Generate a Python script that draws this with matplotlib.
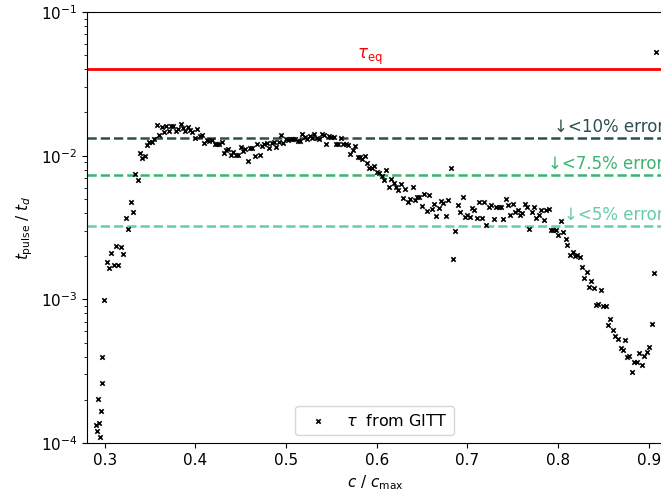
import numpy as np
import matplotlib
matplotlib.use("Agg")
import matplotlib.pyplot as plt

# c / c_max values
c_vals = [
    0.2901, 0.2912, 0.2926, 0.2940, 0.2945, 0.2956, 0.2967, 0.2974, 0.2996, 0.3022,
    0.3047, 0.3073, 0.3099, 0.3128, 0.3150, 0.3180, 0.3205, 0.3235, 0.3257, 0.3287,
    0.3309, 0.3337, 0.3364, 0.3389, 0.3415, 0.3444, 0.3467, 0.3492, 0.3518, 0.3547,
    0.3574, 0.3602, 0.3629, 0.3654, 0.3679, 0.3706, 0.3731, 0.3757, 0.3786, 0.3812,
    0.3838, 0.3864, 0.3889, 0.3915, 0.3941, 0.3966, 0.3993, 0.4021, 0.4048, 0.4073,
    0.4099, 0.4125, 0.4150, 0.4180, 0.4213, 0.4242, 0.4264, 0.4297, 0.4316, 0.4338,
    0.4363, 0.4390, 0.4418, 0.4448, 0.4473, 0.4500, 0.4522, 0.4547, 0.4577, 0.4603,
    0.4628, 0.4658, 0.4683, 0.4710, 0.4732, 0.4760, 0.4787, 0.4812, 0.4842, 0.4867,
    0.4893, 0.4919, 0.4944, 0.4970, 0.4996, 0.5025, 0.5051, 0.5077, 0.5102, 0.5129,
    0.5154, 0.5179, 0.5206, 0.5234, 0.5261, 0.5286, 0.5312, 0.5338, 0.5364, 0.5393,
    0.5419, 0.5444, 0.5471, 0.5499, 0.5526, 0.5551, 0.5576, 0.5603, 0.5632, 0.5658,
    0.5683, 0.5709, 0.5735, 0.5761, 0.5788, 0.5812, 0.5838, 0.5868, 0.5893, 0.5918,
    0.5948, 0.5973, 0.6000, 0.6029, 0.6055, 0.6080, 0.6102, 0.6132, 0.6158, 0.6187,
    0.6213, 0.6238, 0.6265, 0.6290, 0.6315, 0.6342, 0.6367, 0.6397, 0.6419, 0.6448,
    0.6470, 0.6500, 0.6525, 0.6551, 0.6580, 0.6607, 0.6632, 0.6657, 0.6684, 0.6712,
    0.6734, 0.6761, 0.6790, 0.6816, 0.6838, 0.6864, 0.6893, 0.6921, 0.6948, 0.6974,
    0.6998, 0.7026, 0.7051, 0.7075, 0.7103, 0.7131, 0.7158, 0.7183, 0.7209, 0.7238,
    0.7264, 0.7290, 0.7316, 0.7345, 0.7367, 0.7393, 0.7423, 0.7448, 0.7473, 0.7500,
    0.7525, 0.7555, 0.7580, 0.7606, 0.7632, 0.7658, 0.7683, 0.7709, 0.7738, 0.7760,
    0.7787, 0.7815, 0.7842, 0.7867, 0.7897, 0.7922, 0.7948, 0.7977, 0.8002, 0.8029,
    0.8055, 0.8082, 0.8102, 0.8134, 0.8159, 0.8185, 0.8211, 0.8237, 0.8264, 0.8290,
    0.8316, 0.8341, 0.8367, 0.8397, 0.8422, 0.8444, 0.8474, 0.8499, 0.8526, 0.8551,
    0.8576, 0.8606, 0.8631, 0.8658, 0.8687, 0.8713, 0.8735, 0.8760, 0.8786, 0.8816,
    0.8841, 0.8867, 0.8896, 0.8923, 0.8948, 0.8978, 0.9003, 0.9029, 0.9055, 0.9080,
]

# log10(t_pulse / t_d) values
log_tau = [
    -3.874, -3.914, -3.691, -3.862, -3.958, -3.779, -3.580, -3.401, -3.002, -2.738,
    -2.784, -2.675, -2.761, -2.628, -2.761, -2.637, -2.684, -2.434, -2.510, -2.320,
    -2.392, -2.129, -2.169, -1.979, -2.014, -2.002, -1.923, -1.907, -1.903, -1.882,
    -1.784, -1.858, -1.800, -1.837, -1.791, -1.830, -1.795, -1.795, -1.826, -1.816,
    -1.781, -1.809, -1.826, -1.798, -1.821, -1.835, -1.879, -1.812, -1.865, -1.858,
    -1.910, -1.891, -1.898, -1.894, -1.917, -1.917, -1.917, -1.907, -1.983, -1.962,
    -1.951, -1.995, -1.976, -1.993, -1.993, -1.937, -1.965, -1.955, -2.035, -1.949,
    -1.949, -2.002, -1.917, -1.995, -1.930, -1.921, -1.914, -1.949, -1.910, -1.907,
    -1.937, -1.907, -1.858, -1.912, -1.886, -1.891, -1.884, -1.884, -1.886, -1.898,
    -1.901, -1.851, -1.868, -1.885, -1.866, -1.879, -1.849, -1.877, -1.887, -1.851,
    -1.855, -1.921, -1.863, -1.873, -1.868, -1.919, -1.922, -1.875, -1.917, -1.917,
    -1.926, -1.985, -1.964, -1.932, -2.008, -2.011, -2.021, -2.000, -2.053, -2.088,
    -2.088, -2.070, -2.116, -2.120, -2.139, -2.169, -2.102, -2.218, -2.160, -2.190,
    -2.220, -2.241, -2.195, -2.292, -2.232, -2.322, -2.301, -2.220, -2.308, -2.290,
    -2.287, -2.348, -2.264, -2.385, -2.276, -2.373, -2.338, -2.418, -2.364, -2.315,
    -2.326, -2.420, -2.306, -2.086, -2.719, -2.524, -2.341, -2.390, -2.287, -2.424,
    -2.411, -2.424, -2.367, -2.376, -2.431, -2.324, -2.431, -2.322, -2.480, -2.357,
    -2.345, -2.438, -2.359, -2.355, -2.359, -2.438, -2.299, -2.345, -2.413, -2.338,
    -2.392, -2.376, -2.413, -2.401, -2.338, -2.355, -2.507, -2.394, -2.359, -2.431,
    -2.411, -2.378, -2.450, -2.378, -2.371, -2.514, -2.514, -2.514, -2.550, -2.453,
    -2.532, -2.582, -2.620, -2.692, -2.672, -2.695, -2.690, -2.707, -2.775, -2.851,
    -2.809, -2.914, -2.874, -2.919, -3.041, -3.030, -2.935, -3.046, -3.046, -3.178,
    -3.136, -3.213, -3.253, -3.276, -3.338, -3.352, -3.280, -3.401, -3.392, -3.505,
    -3.434, -3.438, -3.375, -3.457, -3.394, -3.364, -3.329, -3.173, -2.816, -1.280,
]

tau_eq = 0.040
err_levels = [0.01324, 0.00731, 0.00323]
err_labels = ["↓<10% error", "↓<7.5% error", "↓<5% error"]
err_colors = ["#2f4f4f", "#3cb371", "#66cdaa"]

tau = 10.0 ** np.array(log_tau)

fig = plt.figure(figsize=(6.61, 4.96), dpi=100)
ax = fig.add_axes([87 / 661, 1 - 443 / 496, 575.5 / 661, 431 / 496])

ax.scatter(c_vals, tau, marker="x", s=10, linewidths=1.2, color="black",
           label=r"$\tau$  from GITT", zorder=3)

xmin, xmax = 0.2805, 0.915
ax.axhline(tau_eq, color="red", lw=2, zorder=2)
ax.text(0.5926, tau_eq * 1.04, r"$\tau_\mathrm{eq}$", color="red",
        ha="center", va="bottom", fontsize=12)

for lvl, lab, col in zip(err_levels, err_labels, err_colors):
    ax.axhline(lvl, color=col, lw=1.8, ls="--", zorder=2)
    ax.text(0.9165, lvl * 1.04, lab, color=col, ha="right", va="bottom", fontsize=12)

ax.set_yscale("log")
ax.set_ylim(1e-4, 1e-1)
ax.set_xlim(xmin, xmax)
ax.set_xticks([0.3, 0.4, 0.5, 0.6, 0.7, 0.8, 0.9])
ax.tick_params(labelsize=11)
ax.set_xlabel(r"$c$ / $c_\mathrm{max}$", fontsize=11)
ax.set_ylabel(r"$t_\mathrm{pulse}$ / $t_d$", fontsize=11)
ax.legend(loc="lower center", fontsize=11.5)

fig.savefig("out.png", dpi=100)
